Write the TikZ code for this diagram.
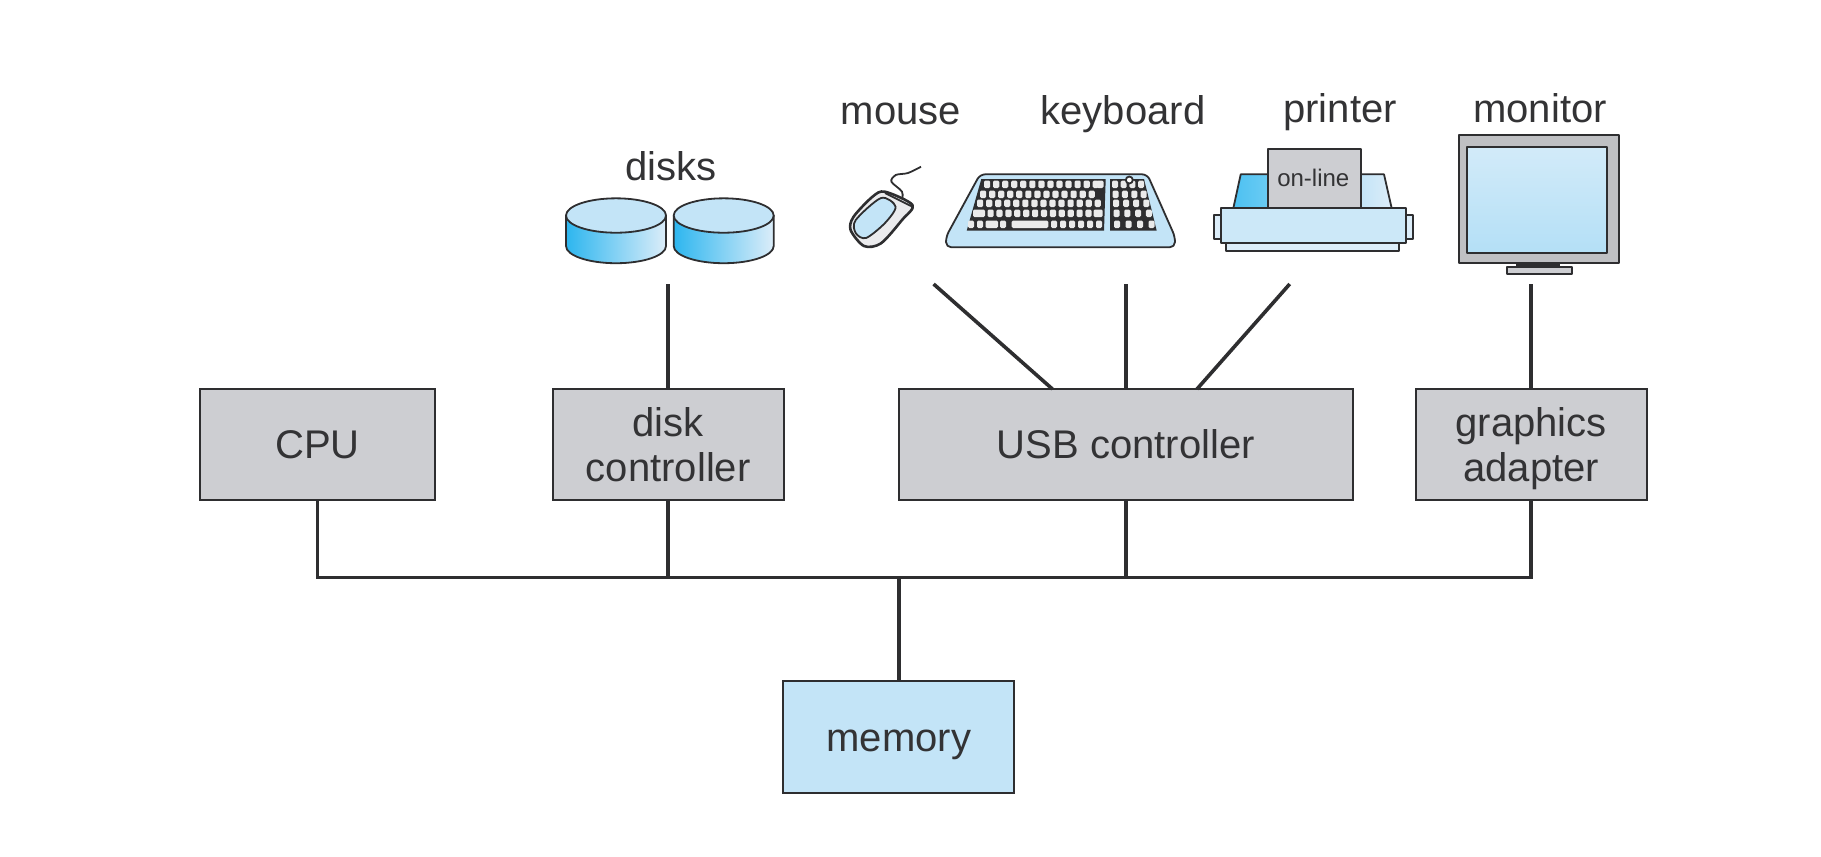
\documentclass[tikz,border=0pt]{standalone}
\usepackage{fontspec}
\setmainfont{Liberation Sans}
\usetikzlibrary{positioning}
\definecolor{boxgray}{HTML}{CDCED2}
\definecolor{pale}{HTML}{C3E4F7}
\definecolor{paler}{HTML}{DCEDF9}
\definecolor{cyanish}{HTML}{2DB6EF}
\definecolor{ink}{HTML}{2E2E30}
\definecolor{txt}{HTML}{333335}
\begin{document}
\begin{tikzpicture}[x=0.01cm, y=-0.01cm]
    \tikzstyle{every node}=[font=\fontsize{11.38}{12.8}\selectfont, align=center, text=txt]
    \tikzset{
        n/.style={draw=ink, fill=boxgray, line width=0.019cm, inner sep=0pt, minimum height=1.115cm, minimum width=2.31cm},
        n1/.style={n, text height=0.28cm, text depth=0cm},
        n2/.style={n1, minimum width=4.53cm},
        dev/.style={anchor=base, inner sep=0pt},
        wire/.style={draw=ink, line width=0.036cm},
        icon/.style={draw=ink, line width=0.018cm, line join=round},
        key/.style={fill=white!90!ink, rounded corners=0.4pt}
        }
    \useasboundingbox (0,0) rectangle (1821,856);

    %controllers
    \node (cpu) [n1, minimum width=2.346cm] at (317.5,444.5) {CPU};
    \node (diskctl) [n, right of=cpu, xshift=2.505cm] {disk\\controller};
    \node (usb) [n2, right of=cpu, xshift=7.08cm] {USB controller};
    \node (adapter) [n, right of=cpu, xshift=11.13cm] {graphics\\\smash{adapter}};

    %memory
    \node (memory) [n1, fill=pale, below of=cpu, xshift=5.81cm, yshift=-1.925cm] {memory};

    %device names
    \node (mouse) [dev] at (901,124) {mouse};
    \node (keyboard) [dev] at (1123,124) {keyboard};
    \node (printer) [dev] at (1340,122) {printer};
    \node (monitor) [dev] at (1540,122) {monitor};
    \node (disks) [dev] at (671,180) {disks};

    %disk icons
    \foreach \cx in {616,723.7}{
        \draw [icon, left color=cyanish, right color=paler] ({\cx-50},215.5) -- ({\cx-50},246)
            arc [start angle=180, end angle=0, x radius=50, y radius=17.2] -- ({\cx+50},215.5) -- cycle;
        \draw [icon, fill=pale] (\cx,215.5) ellipse [x radius=50, y radius=17.2];
    }

    %mouse icon
    \draw [icon] plot [smooth] coordinates
        {(921,166.7) (908,173) (895.6,175) (891.4,181.7) (902,191.7) (902,201.7)};
    \draw [icon, line width=0.026cm, fill=boxgray!40!white] plot [smooth cycle] coordinates
        {(885,191.7) (912.5,205) (902,220) (881,243.3) (864,246) (850.6,230) (853.6,216.7) (872.5,196.7)};
    \draw [icon, fill=pale] plot [smooth cycle] coordinates
        {(881,198) (895.6,206.7) (885,223) (866,238) (855.7,233) (855.7,220)};
    \draw [icon] (885,193) -- (911,206);

    %keyboard icon
    \draw [icon, fill=pale, rounded corners=1.5pt] (980,174.3) -- (1147.3,174.3) -- (1175,236.7) -- (1175,247.3)
        -- (946,247.3) -- (946,236.7) -- cycle;
    \fill [ink] (981.3,179) -- (1105.7,179) -- (1104,230.7) -- (966.7,230.7) -- cycle;
    \fill [ink] (1110,179) -- (1144,179) -- (1156.7,230.7) -- (1110,230.7) -- cycle;
    \foreach \ky/\kx/\kn in {180.5/984/12, 190.5/980/12, 199.5/977/13}
        \foreach \k in {0,...,\kn}
            \fill [key] ({\kx+\k*9.05},\ky) rectangle ++(6.2,7.5);
    \fill [key] (1097,180.5) rectangle (1103.5,188);
    \foreach \k in {0,...,11}
        \fill [key] ({987.5+\k*8.9},209.5) rectangle ++(6.2,7.5);
    \fill [key] (973,209.5) rectangle (985,217);
    \fill [key] (1093.5,209.5) rectangle (1102.7,217);
    \foreach \kx in {968,977,1000,1051,1060,1069,1078,1087,1096}
        \fill [key] (\kx,220.5) rectangle ++(6,7.5);
    \fill [key] (985.5,220.5) rectangle (998,228);
    \fill [key] (1011.7,220.5) rectangle (1048.3,228);
    \foreach \i/\ky in {0/180.5,1/190.5,2/199.5,3/209.5,4/220.5}
        \foreach \j in {0,...,3}
            \fill [key] ({1112+\i*0.5+\j*(8.7+\i*0.7)},\ky) rectangle ++(6,7.5);
    \draw [icon, fill=white] (1129.3,180) circle [radius=3.5];

    %printer icon
    \draw [icon, left color=cyanish!85, right color=cyanish!70] (1233.3,208.3) -- (1240.7,174.3) -- (1270,174.3) -- (1270,208.3) -- cycle;
    \draw [icon, left color=pale, right color=paler] (1360,174.3) -- (1384,174.3) -- (1391.7,208.3) -- (1360,208.3) -- cycle;
    \draw [icon, fill=boxgray] (1268.3,149) rectangle (1361,208.3);
    \draw [icon, fill=paler] (1214,215) rectangle (1221,239.3);
    \draw [icon, fill=paler] (1406,215) rectangle (1413.3,239.3);
    \draw [icon, fill=paler] (1226,243.3) rectangle (1399,251);
    \draw [icon, fill=pale!85!white] (1221,208.3) rectangle (1406,243.3);
    \node (online) [inner sep=0pt, font=\fontsize{6.83}{8}\selectfont] at (1313.3,178) {on-line};

    %monitor icon
    \draw [icon, fill=boxgray!93!black] (1459.3,135) rectangle (1618.7,262.7);
    \draw [icon, top color=pale!75!white, bottom color=pale!90!cyanish] (1466.7,147.3) rectangle (1606.7,252.7);
    \fill [ink] (1516,262.7) rectangle (1560,267.3);
    \draw [icon, fill=boxgray] (1506.7,267.3) rectangle (1571.7,274.3);

    %free ends of the connectors
    \coordinate (topend) at (0,284);
    \coordinate (diskend) at (diskctl.north |- topend);
    \coordinate (mouseend) at (933.6,284);
    \coordinate (keyend) at (usb.north |- topend);
    \coordinate (printend) at (1289.7,284);
    \coordinate (monitorend) at (adapter.north |- topend);
    \coordinate (usbleft) at (1052.4,389);
    \coordinate (usbright) at (1197,389);
    \coordinate (bus) at (899.4,577.3);

    \draw [wire] (diskend) -- (diskctl.north);
    \draw [wire] (mouseend) -- (usbleft);
    \draw [wire] (keyend) -- (usb.north);
    \draw [wire] (printend) -- (usbright);
    \draw [wire] (monitorend) -- (adapter.north);

    %bus
    \draw [wire] (cpu.south) |- (bus) -| (adapter.south);
    \draw [wire] (diskctl.south) -- (diskctl.south |- bus);
    \draw [wire] (usb.south) -- (usb.south |- bus);
    \draw [wire] (memory.north) -- (memory.north |- bus);
\end{tikzpicture}
\end{document}
